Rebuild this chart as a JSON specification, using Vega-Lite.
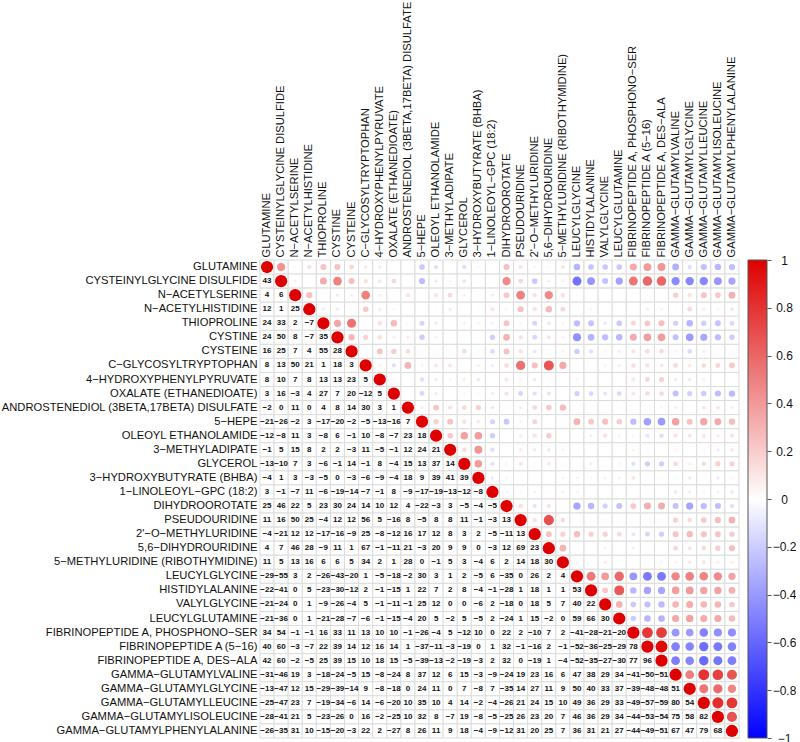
{"$schema":"https://vega.github.io/schema/vega-lite/v6.json","background":"white","padding":{"left":0,"top":0,"right":0,"bottom":0},
"params":[{"name":"names","value":["GLUTAMINE","CYSTEINYLGLYCINE DISULFIDE","N−ACETYLSERINE","N−ACETYLHISTIDINE","THIOPROLINE","CYSTINE","CYSTEINE","C−GLYCOSYLTRYPTOPHAN","4−HYDROXYPHENYLPYRUVATE","OXALATE (ETHANEDIOATE)","ANDROSTENEDIOL (3BETA,17BETA) DISULFATE","5−HEPE","OLEOYL ETHANOLAMIDE","3−METHYLADIPATE","GLYCEROL","3−HYDROXYBUTYRATE (BHBA)","1−LINOLEOYL−GPC (18:2)","DIHYDROOROTATE","PSEUDOURIDINE","2'−O−METHYLURIDINE","5,6−DIHYDROURIDINE","5−METHYLURIDINE (RIBOTHYMIDINE)","LEUCYLGLYCINE","HISTIDYLALANINE","VALYLGLYCINE","LEUCYLGLUTAMINE","FIBRINOPEPTIDE A, PHOSPHONO−SER","FIBRINOPEPTIDE A (5−16)","FIBRINOPEPTIDE A, DES−ALA","GAMMA−GLUTAMYLVALINE","GAMMA−GLUTAMYLGLYCINE","GAMMA−GLUTAMYLLEUCINE","GAMMA−GLUTAMYLISOLEUCINE","GAMMA−GLUTAMYLPHENYLALANINE"]}],
"config":{"view":{"stroke":null},"scale":{"bandPaddingInner":0,"bandPaddingOuter":0},"font":"Liberation Sans"},
"spacing":7,
"hconcat":[{"width":479,"height":478,
"data":{"values":[
{"r":1,"c":1,"v":100},
{"r":2,"c":1,"v":43},{"r":2,"c":2,"v":100},
{"r":3,"c":1,"v":4},{"r":3,"c":2,"v":6},{"r":3,"c":3,"v":100},
{"r":4,"c":1,"v":12},{"r":4,"c":2,"v":1},{"r":4,"c":3,"v":25},{"r":4,"c":4,"v":100},
{"r":5,"c":1,"v":24},{"r":5,"c":2,"v":33},{"r":5,"c":3,"v":2},{"r":5,"c":4,"v":-7},{"r":5,"c":5,"v":100},
{"r":6,"c":1,"v":24},{"r":6,"c":2,"v":50},{"r":6,"c":3,"v":8},{"r":6,"c":4,"v":-7},{"r":6,"c":5,"v":35},{"r":6,"c":6,"v":100},
{"r":7,"c":1,"v":16},{"r":7,"c":2,"v":25},{"r":7,"c":3,"v":7},{"r":7,"c":4,"v":4},{"r":7,"c":5,"v":55},{"r":7,"c":6,"v":28},{"r":7,"c":7,"v":100},
{"r":8,"c":1,"v":8},{"r":8,"c":2,"v":13},{"r":8,"c":3,"v":50},{"r":8,"c":4,"v":21},{"r":8,"c":5,"v":1},{"r":8,"c":6,"v":18},{"r":8,"c":7,"v":3},{"r":8,"c":8,"v":100},
{"r":9,"c":1,"v":8},{"r":9,"c":2,"v":10},{"r":9,"c":3,"v":7},{"r":9,"c":4,"v":8},{"r":9,"c":5,"v":13},{"r":9,"c":6,"v":13},{"r":9,"c":7,"v":23},{"r":9,"c":8,"v":5},{"r":9,"c":9,"v":100},
{"r":10,"c":1,"v":3},{"r":10,"c":2,"v":16},{"r":10,"c":3,"v":-3},{"r":10,"c":4,"v":4},{"r":10,"c":5,"v":27},{"r":10,"c":6,"v":7},{"r":10,"c":7,"v":20},{"r":10,"c":8,"v":-12},{"r":10,"c":9,"v":5},{"r":10,"c":10,"v":100},
{"r":11,"c":1,"v":-2},{"r":11,"c":2,"v":0},{"r":11,"c":3,"v":11},{"r":11,"c":4,"v":0},{"r":11,"c":5,"v":4},{"r":11,"c":6,"v":8},{"r":11,"c":7,"v":14},{"r":11,"c":8,"v":30},{"r":11,"c":9,"v":3},{"r":11,"c":10,"v":1},{"r":11,"c":11,"v":100},
{"r":12,"c":1,"v":-21},{"r":12,"c":2,"v":-26},{"r":12,"c":3,"v":-2},{"r":12,"c":4,"v":3},{"r":12,"c":5,"v":-17},{"r":12,"c":6,"v":-20},{"r":12,"c":7,"v":-2},{"r":12,"c":8,"v":-5},{"r":12,"c":9,"v":-13},{"r":12,"c":10,"v":-16},{"r":12,"c":11,"v":7},{"r":12,"c":12,"v":100},
{"r":13,"c":1,"v":-12},{"r":13,"c":2,"v":-8},{"r":13,"c":3,"v":11},{"r":13,"c":4,"v":3},{"r":13,"c":5,"v":-8},{"r":13,"c":6,"v":6},{"r":13,"c":7,"v":-1},{"r":13,"c":8,"v":10},{"r":13,"c":9,"v":-8},{"r":13,"c":10,"v":-7},{"r":13,"c":11,"v":23},{"r":13,"c":12,"v":18},{"r":13,"c":13,"v":100},
{"r":14,"c":1,"v":-1},{"r":14,"c":2,"v":5},{"r":14,"c":3,"v":15},{"r":14,"c":4,"v":8},{"r":14,"c":5,"v":2},{"r":14,"c":6,"v":2},{"r":14,"c":7,"v":-3},{"r":14,"c":8,"v":11},{"r":14,"c":9,"v":-5},{"r":14,"c":10,"v":-1},{"r":14,"c":11,"v":12},{"r":14,"c":12,"v":24},{"r":14,"c":13,"v":21},{"r":14,"c":14,"v":100},
{"r":15,"c":1,"v":-13},{"r":15,"c":2,"v":-10},{"r":15,"c":3,"v":7},{"r":15,"c":4,"v":3},{"r":15,"c":5,"v":-6},{"r":15,"c":6,"v":-1},{"r":15,"c":7,"v":14},{"r":15,"c":8,"v":-1},{"r":15,"c":9,"v":8},{"r":15,"c":10,"v":-4},{"r":15,"c":11,"v":15},{"r":15,"c":12,"v":13},{"r":15,"c":13,"v":37},{"r":15,"c":14,"v":14},{"r":15,"c":15,"v":100},
{"r":16,"c":1,"v":-4},{"r":16,"c":2,"v":1},{"r":16,"c":3,"v":3},{"r":16,"c":4,"v":-3},{"r":16,"c":5,"v":-5},{"r":16,"c":6,"v":0},{"r":16,"c":7,"v":-3},{"r":16,"c":8,"v":-6},{"r":16,"c":9,"v":-9},{"r":16,"c":10,"v":-4},{"r":16,"c":11,"v":18},{"r":16,"c":12,"v":9},{"r":16,"c":13,"v":39},{"r":16,"c":14,"v":41},{"r":16,"c":15,"v":39},{"r":16,"c":16,"v":100},
{"r":17,"c":1,"v":3},{"r":17,"c":2,"v":-1},{"r":17,"c":3,"v":-7},{"r":17,"c":4,"v":11},{"r":17,"c":5,"v":-6},{"r":17,"c":6,"v":-19},{"r":17,"c":7,"v":-14},{"r":17,"c":8,"v":-7},{"r":17,"c":9,"v":-1},{"r":17,"c":10,"v":8},{"r":17,"c":11,"v":-9},{"r":17,"c":12,"v":-17},{"r":17,"c":13,"v":-19},{"r":17,"c":14,"v":-13},{"r":17,"c":15,"v":-12},{"r":17,"c":16,"v":-8},{"r":17,"c":17,"v":100},
{"r":18,"c":1,"v":25},{"r":18,"c":2,"v":46},{"r":18,"c":3,"v":22},{"r":18,"c":4,"v":5},{"r":18,"c":5,"v":23},{"r":18,"c":6,"v":30},{"r":18,"c":7,"v":24},{"r":18,"c":8,"v":14},{"r":18,"c":9,"v":10},{"r":18,"c":10,"v":12},{"r":18,"c":11,"v":4},{"r":18,"c":12,"v":-22},{"r":18,"c":13,"v":-3},{"r":18,"c":14,"v":3},{"r":18,"c":15,"v":-5},{"r":18,"c":16,"v":-4},{"r":18,"c":17,"v":-5},{"r":18,"c":18,"v":100},
{"r":19,"c":1,"v":11},{"r":19,"c":2,"v":16},{"r":19,"c":3,"v":50},{"r":19,"c":4,"v":25},{"r":19,"c":5,"v":-4},{"r":19,"c":6,"v":12},{"r":19,"c":7,"v":12},{"r":19,"c":8,"v":56},{"r":19,"c":9,"v":5},{"r":19,"c":10,"v":-16},{"r":19,"c":11,"v":8},{"r":19,"c":12,"v":-5},{"r":19,"c":13,"v":8},{"r":19,"c":14,"v":8},{"r":19,"c":15,"v":11},{"r":19,"c":16,"v":-1},{"r":19,"c":17,"v":-3},{"r":19,"c":18,"v":13},{"r":19,"c":19,"v":100},
{"r":20,"c":1,"v":-4},{"r":20,"c":2,"v":-21},{"r":20,"c":3,"v":12},{"r":20,"c":4,"v":12},{"r":20,"c":5,"v":-17},{"r":20,"c":6,"v":-16},{"r":20,"c":7,"v":-9},{"r":20,"c":8,"v":25},{"r":20,"c":9,"v":-8},{"r":20,"c":10,"v":-12},{"r":20,"c":11,"v":16},{"r":20,"c":12,"v":17},{"r":20,"c":13,"v":12},{"r":20,"c":14,"v":8},{"r":20,"c":15,"v":3},{"r":20,"c":16,"v":2},{"r":20,"c":17,"v":-5},{"r":20,"c":18,"v":-11},{"r":20,"c":19,"v":13},{"r":20,"c":20,"v":100},
{"r":21,"c":1,"v":4},{"r":21,"c":2,"v":7},{"r":21,"c":3,"v":46},{"r":21,"c":4,"v":28},{"r":21,"c":5,"v":-9},{"r":21,"c":6,"v":11},{"r":21,"c":7,"v":1},{"r":21,"c":8,"v":67},{"r":21,"c":9,"v":-1},{"r":21,"c":10,"v":-11},{"r":21,"c":11,"v":21},{"r":21,"c":12,"v":-3},{"r":21,"c":13,"v":20},{"r":21,"c":14,"v":9},{"r":21,"c":15,"v":9},{"r":21,"c":16,"v":0},{"r":21,"c":17,"v":-3},{"r":21,"c":18,"v":12},{"r":21,"c":19,"v":69},{"r":21,"c":20,"v":23},{"r":21,"c":21,"v":100},
{"r":22,"c":1,"v":11},{"r":22,"c":2,"v":5},{"r":22,"c":3,"v":13},{"r":22,"c":4,"v":16},{"r":22,"c":5,"v":6},{"r":22,"c":6,"v":6},{"r":22,"c":7,"v":5},{"r":22,"c":8,"v":34},{"r":22,"c":9,"v":2},{"r":22,"c":10,"v":1},{"r":22,"c":11,"v":28},{"r":22,"c":12,"v":0},{"r":22,"c":13,"v":-1},{"r":22,"c":14,"v":5},{"r":22,"c":15,"v":3},{"r":22,"c":16,"v":-4},{"r":22,"c":17,"v":6},{"r":22,"c":18,"v":2},{"r":22,"c":19,"v":14},{"r":22,"c":20,"v":18},{"r":22,"c":21,"v":30},{"r":22,"c":22,"v":100},
{"r":23,"c":1,"v":-29},{"r":23,"c":2,"v":-55},{"r":23,"c":3,"v":3},{"r":23,"c":4,"v":2},{"r":23,"c":5,"v":-26},{"r":23,"c":6,"v":-43},{"r":23,"c":7,"v":-20},{"r":23,"c":8,"v":1},{"r":23,"c":9,"v":-5},{"r":23,"c":10,"v":-18},{"r":23,"c":11,"v":-2},{"r":23,"c":12,"v":30},{"r":23,"c":13,"v":3},{"r":23,"c":14,"v":1},{"r":23,"c":15,"v":2},{"r":23,"c":16,"v":-5},{"r":23,"c":17,"v":6},{"r":23,"c":18,"v":-35},{"r":23,"c":19,"v":0},{"r":23,"c":20,"v":26},{"r":23,"c":21,"v":2},{"r":23,"c":22,"v":4},{"r":23,"c":23,"v":100},
{"r":24,"c":1,"v":-22},{"r":24,"c":2,"v":-41},{"r":24,"c":3,"v":0},{"r":24,"c":4,"v":5},{"r":24,"c":5,"v":-23},{"r":24,"c":6,"v":-30},{"r":24,"c":7,"v":-12},{"r":24,"c":8,"v":2},{"r":24,"c":9,"v":-1},{"r":24,"c":10,"v":-15},{"r":24,"c":11,"v":1},{"r":24,"c":12,"v":22},{"r":24,"c":13,"v":7},{"r":24,"c":14,"v":2},{"r":24,"c":15,"v":8},{"r":24,"c":16,"v":-4},{"r":24,"c":17,"v":-1},{"r":24,"c":18,"v":-28},{"r":24,"c":19,"v":1},{"r":24,"c":20,"v":18},{"r":24,"c":21,"v":1},{"r":24,"c":22,"v":1},{"r":24,"c":23,"v":53},{"r":24,"c":24,"v":100},
{"r":25,"c":1,"v":-21},{"r":25,"c":2,"v":-24},{"r":25,"c":3,"v":0},{"r":25,"c":4,"v":1},{"r":25,"c":5,"v":-9},{"r":25,"c":6,"v":-26},{"r":25,"c":7,"v":-4},{"r":25,"c":8,"v":5},{"r":25,"c":9,"v":-1},{"r":25,"c":10,"v":-11},{"r":25,"c":11,"v":-1},{"r":25,"c":12,"v":25},{"r":25,"c":13,"v":12},{"r":25,"c":14,"v":0},{"r":25,"c":15,"v":0},{"r":25,"c":16,"v":-6},{"r":25,"c":17,"v":2},{"r":25,"c":18,"v":-18},{"r":25,"c":19,"v":0},{"r":25,"c":20,"v":18},{"r":25,"c":21,"v":5},{"r":25,"c":22,"v":7},{"r":25,"c":23,"v":40},{"r":25,"c":24,"v":22},{"r":25,"c":25,"v":100},
{"r":26,"c":1,"v":-21},{"r":26,"c":2,"v":-36},{"r":26,"c":3,"v":0},{"r":26,"c":4,"v":1},{"r":26,"c":5,"v":-21},{"r":26,"c":6,"v":-28},{"r":26,"c":7,"v":-7},{"r":26,"c":8,"v":-6},{"r":26,"c":9,"v":-1},{"r":26,"c":10,"v":-15},{"r":26,"c":11,"v":-4},{"r":26,"c":12,"v":20},{"r":26,"c":13,"v":5},{"r":26,"c":14,"v":-2},{"r":26,"c":15,"v":5},{"r":26,"c":16,"v":-5},{"r":26,"c":17,"v":2},{"r":26,"c":18,"v":-24},{"r":26,"c":19,"v":1},{"r":26,"c":20,"v":15},{"r":26,"c":21,"v":-2},{"r":26,"c":22,"v":0},{"r":26,"c":23,"v":59},{"r":26,"c":24,"v":66},{"r":26,"c":25,"v":30},{"r":26,"c":26,"v":100},
{"r":27,"c":1,"v":34},{"r":27,"c":2,"v":54},{"r":27,"c":3,"v":-1},{"r":27,"c":4,"v":-1},{"r":27,"c":5,"v":16},{"r":27,"c":6,"v":33},{"r":27,"c":7,"v":11},{"r":27,"c":8,"v":13},{"r":27,"c":9,"v":10},{"r":27,"c":10,"v":10},{"r":27,"c":11,"v":-1},{"r":27,"c":12,"v":-26},{"r":27,"c":13,"v":-4},{"r":27,"c":14,"v":5},{"r":27,"c":15,"v":-12},{"r":27,"c":16,"v":10},{"r":27,"c":17,"v":0},{"r":27,"c":18,"v":22},{"r":27,"c":19,"v":2},{"r":27,"c":20,"v":-10},{"r":27,"c":21,"v":7},{"r":27,"c":22,"v":2},{"r":27,"c":23,"v":-41},{"r":27,"c":24,"v":-28},{"r":27,"c":25,"v":-21},{"r":27,"c":26,"v":-20},{"r":27,"c":27,"v":100},
{"r":28,"c":1,"v":40},{"r":28,"c":2,"v":60},{"r":28,"c":3,"v":-3},{"r":28,"c":4,"v":-7},{"r":28,"c":5,"v":22},{"r":28,"c":6,"v":39},{"r":28,"c":7,"v":14},{"r":28,"c":8,"v":12},{"r":28,"c":9,"v":16},{"r":28,"c":10,"v":14},{"r":28,"c":11,"v":1},{"r":28,"c":12,"v":-37},{"r":28,"c":13,"v":-11},{"r":28,"c":14,"v":-3},{"r":28,"c":15,"v":-19},{"r":28,"c":16,"v":0},{"r":28,"c":17,"v":1},{"r":28,"c":18,"v":32},{"r":28,"c":19,"v":-1},{"r":28,"c":20,"v":-16},{"r":28,"c":21,"v":2},{"r":28,"c":22,"v":-1},{"r":28,"c":23,"v":-52},{"r":28,"c":24,"v":-36},{"r":28,"c":25,"v":-25},{"r":28,"c":26,"v":-29},{"r":28,"c":27,"v":78},{"r":28,"c":28,"v":100},
{"r":29,"c":1,"v":42},{"r":29,"c":2,"v":60},{"r":29,"c":3,"v":-2},{"r":29,"c":4,"v":-5},{"r":29,"c":5,"v":25},{"r":29,"c":6,"v":39},{"r":29,"c":7,"v":15},{"r":29,"c":8,"v":10},{"r":29,"c":9,"v":18},{"r":29,"c":10,"v":15},{"r":29,"c":11,"v":-5},{"r":29,"c":12,"v":-39},{"r":29,"c":13,"v":-13},{"r":29,"c":14,"v":-2},{"r":29,"c":15,"v":-19},{"r":29,"c":16,"v":-3},{"r":29,"c":17,"v":2},{"r":29,"c":18,"v":32},{"r":29,"c":19,"v":0},{"r":29,"c":20,"v":-19},{"r":29,"c":21,"v":1},{"r":29,"c":22,"v":-4},{"r":29,"c":23,"v":-52},{"r":29,"c":24,"v":-35},{"r":29,"c":25,"v":-27},{"r":29,"c":26,"v":-30},{"r":29,"c":27,"v":77},{"r":29,"c":28,"v":96},{"r":29,"c":29,"v":100},
{"r":30,"c":1,"v":-31},{"r":30,"c":2,"v":-46},{"r":30,"c":3,"v":19},{"r":30,"c":4,"v":3},{"r":30,"c":5,"v":-18},{"r":30,"c":6,"v":-24},{"r":30,"c":7,"v":-5},{"r":30,"c":8,"v":15},{"r":30,"c":9,"v":-8},{"r":30,"c":10,"v":-24},{"r":30,"c":11,"v":8},{"r":30,"c":12,"v":37},{"r":30,"c":13,"v":12},{"r":30,"c":14,"v":6},{"r":30,"c":15,"v":15},{"r":30,"c":16,"v":-3},{"r":30,"c":17,"v":-9},{"r":30,"c":18,"v":-24},{"r":30,"c":19,"v":19},{"r":30,"c":20,"v":23},{"r":30,"c":21,"v":16},{"r":30,"c":22,"v":6},{"r":30,"c":23,"v":47},{"r":30,"c":24,"v":38},{"r":30,"c":25,"v":29},{"r":30,"c":26,"v":34},{"r":30,"c":27,"v":-41},{"r":30,"c":28,"v":-50},{"r":30,"c":29,"v":-51},{"r":30,"c":30,"v":100},
{"r":31,"c":1,"v":-13},{"r":31,"c":2,"v":-47},{"r":31,"c":3,"v":12},{"r":31,"c":4,"v":15},{"r":31,"c":5,"v":-29},{"r":31,"c":6,"v":-39},{"r":31,"c":7,"v":-14},{"r":31,"c":8,"v":9},{"r":31,"c":9,"v":-8},{"r":31,"c":10,"v":-18},{"r":31,"c":11,"v":0},{"r":31,"c":12,"v":24},{"r":31,"c":13,"v":11},{"r":31,"c":14,"v":0},{"r":31,"c":15,"v":7},{"r":31,"c":16,"v":-8},{"r":31,"c":17,"v":7},{"r":31,"c":18,"v":-35},{"r":31,"c":19,"v":14},{"r":31,"c":20,"v":27},{"r":31,"c":21,"v":11},{"r":31,"c":22,"v":9},{"r":31,"c":23,"v":50},{"r":31,"c":24,"v":40},{"r":31,"c":25,"v":33},{"r":31,"c":26,"v":37},{"r":31,"c":27,"v":-39},{"r":31,"c":28,"v":-48},{"r":31,"c":29,"v":-48},{"r":31,"c":30,"v":51},{"r":31,"c":31,"v":100},
{"r":32,"c":1,"v":-25},{"r":32,"c":2,"v":-47},{"r":32,"c":3,"v":23},{"r":32,"c":4,"v":7},{"r":32,"c":5,"v":-19},{"r":32,"c":6,"v":-34},{"r":32,"c":7,"v":-6},{"r":32,"c":8,"v":14},{"r":32,"c":9,"v":-6},{"r":32,"c":10,"v":-20},{"r":32,"c":11,"v":10},{"r":32,"c":12,"v":35},{"r":32,"c":13,"v":10},{"r":32,"c":14,"v":4},{"r":32,"c":15,"v":14},{"r":32,"c":16,"v":-2},{"r":32,"c":17,"v":-4},{"r":32,"c":18,"v":-26},{"r":32,"c":19,"v":21},{"r":32,"c":20,"v":24},{"r":32,"c":21,"v":15},{"r":32,"c":22,"v":10},{"r":32,"c":23,"v":49},{"r":32,"c":24,"v":36},{"r":32,"c":25,"v":29},{"r":32,"c":26,"v":33},{"r":32,"c":27,"v":-49},{"r":32,"c":28,"v":-57},{"r":32,"c":29,"v":-59},{"r":32,"c":30,"v":80},{"r":32,"c":31,"v":54},{"r":32,"c":32,"v":100},
{"r":33,"c":1,"v":-28},{"r":33,"c":2,"v":-41},{"r":33,"c":3,"v":21},{"r":33,"c":4,"v":5},{"r":33,"c":5,"v":-23},{"r":33,"c":6,"v":-26},{"r":33,"c":7,"v":0},{"r":33,"c":8,"v":16},{"r":33,"c":9,"v":-2},{"r":33,"c":10,"v":-25},{"r":33,"c":11,"v":10},{"r":33,"c":12,"v":32},{"r":33,"c":13,"v":8},{"r":33,"c":14,"v":-7},{"r":33,"c":15,"v":19},{"r":33,"c":16,"v":-8},{"r":33,"c":17,"v":-5},{"r":33,"c":18,"v":-25},{"r":33,"c":19,"v":26},{"r":33,"c":20,"v":23},{"r":33,"c":21,"v":20},{"r":33,"c":22,"v":7},{"r":33,"c":23,"v":46},{"r":33,"c":24,"v":36},{"r":33,"c":25,"v":29},{"r":33,"c":26,"v":34},{"r":33,"c":27,"v":-44},{"r":33,"c":28,"v":-53},{"r":33,"c":29,"v":-54},{"r":33,"c":30,"v":75},{"r":33,"c":31,"v":58},{"r":33,"c":32,"v":82},{"r":33,"c":33,"v":100},
{"r":34,"c":1,"v":-26},{"r":34,"c":2,"v":-35},{"r":34,"c":3,"v":31},{"r":34,"c":4,"v":10},{"r":34,"c":5,"v":-15},{"r":34,"c":6,"v":-20},{"r":34,"c":7,"v":-3},{"r":34,"c":8,"v":22},{"r":34,"c":9,"v":2},{"r":34,"c":10,"v":-27},{"r":34,"c":11,"v":8},{"r":34,"c":12,"v":26},{"r":34,"c":13,"v":11},{"r":34,"c":14,"v":9},{"r":34,"c":15,"v":18},{"r":34,"c":16,"v":-4},{"r":34,"c":17,"v":-9},{"r":34,"c":18,"v":-12},{"r":34,"c":19,"v":31},{"r":34,"c":20,"v":20},{"r":34,"c":21,"v":25},{"r":34,"c":22,"v":7},{"r":34,"c":23,"v":36},{"r":34,"c":24,"v":31},{"r":34,"c":25,"v":21},{"r":34,"c":26,"v":27},{"r":34,"c":27,"v":-44},{"r":34,"c":28,"v":-49},{"r":34,"c":29,"v":-51},{"r":34,"c":30,"v":67},{"r":34,"c":31,"v":47},{"r":34,"c":32,"v":79},{"r":34,"c":33,"v":68},{"r":34,"c":34,"v":100}
]},
"layer":[
{"mark":{"type":"rect","fill":"white","stroke":"#dcdcdc","strokeWidth":1},
"encoding":{"x":{"field":"c","type":"ordinal","scale":{"type":"band","domain":[1,2,3,4,5,6,7,8,9,10,11,12,13,14,15,16,17,18,19,20,21,22,23,24,25,26,27,28,29,30,31,32,33,34]},"axis":{"orient":"top","title":null,"domain":false,"ticks":false,"labelAngle":-90,"labelAlign":"left","labelBaseline":"middle","labelPadding":3,"labelFontSize":11.2,"labelColor":"#111","labelLimit":300,"labelFont":"Liberation Sans","labelOverlap":false,"labelExpr":"names[datum.value-1]"}},
"y":{"field":"r","type":"ordinal","scale":{"type":"band","domain":[1,2,3,4,5,6,7,8,9,10,11,12,13,14,15,16,17,18,19,20,21,22,23,24,25,26,27,28,29,30,31,32,33,34]},"axis":{"title":null,"domain":false,"ticks":false,"labelAlign":"right","labelPadding":3,"labelFontSize":11.2,"labelColor":"#111","labelLimit":300,"labelFont":"Liberation Sans","labelOverlap":false,"labelExpr":"names[datum.value-1]"}}}},
{"mark":{"type":"rect","fill":"white","stroke":"#dcdcdc","strokeWidth":1},
"encoding":{"x":{"field":"r","type":"ordinal","scale":{"type":"band","domain":[1,2,3,4,5,6,7,8,9,10,11,12,13,14,15,16,17,18,19,20,21,22,23,24,25,26,27,28,29,30,31,32,33,34]}},
"y":{"field":"c","type":"ordinal","scale":{"type":"band","domain":[1,2,3,4,5,6,7,8,9,10,11,12,13,14,15,16,17,18,19,20,21,22,23,24,25,26,27,28,29,30,31,32,33,34]}}}},
{"transform":[{"filter":"datum.r!=datum.c"}],"mark":{"type":"text","fontSize":8,"fontWeight":"bold","color":"#111","font":"Liberation Sans"},
"encoding":{"x":{"field":"c","type":"ordinal","scale":{"type":"band","domain":[1,2,3,4,5,6,7,8,9,10,11,12,13,14,15,16,17,18,19,20,21,22,23,24,25,26,27,28,29,30,31,32,33,34]}},
"y":{"field":"r","type":"ordinal","scale":{"type":"band","domain":[1,2,3,4,5,6,7,8,9,10,11,12,13,14,15,16,17,18,19,20,21,22,23,24,25,26,27,28,29,30,31,32,33,34]}},
"text":{"field":"v","type":"quantitative","format":"d"}}},
{"mark":{"type":"circle","opacity":1},
"encoding":{"x":{"field":"r","type":"ordinal","scale":{"type":"band","domain":[1,2,3,4,5,6,7,8,9,10,11,12,13,14,15,16,17,18,19,20,21,22,23,24,25,26,27,28,29,30,31,32,33,34]}},
"y":{"field":"c","type":"ordinal","scale":{"type":"band","domain":[1,2,3,4,5,6,7,8,9,10,11,12,13,14,15,16,17,18,19,20,21,22,23,24,25,26,27,28,29,30,31,32,33,34]}},
"size":{"field":"v","type":"quantitative","legend":null,"scale":{"domain":[-100,0,100],"range":[150,0,150]}},
"color":{"field":"v","type":"quantitative","legend":null,"scale":{"domain":[-100,0,100],"range":["#0000FF","#FFFFFF","#DE0000"],"interpolate":"rgb"}}}}
]},
{"width":19,"height":478,"data":{"values":[{"lo":-1,"hi":1}]},
"mark":{"type":"rect","stroke":"#555","strokeWidth":1,"color":{"gradient":"linear","x1":0,"y1":1,"x2":0,"y2":0,"stops":[{"offset":0,"color":"#0000FF"},{"offset":0.5,"color":"#FFFFFF"},{"offset":1,"color":"#DE0000"}]}},
"encoding":{"y":{"field":"lo","type":"quantitative","scale":{"domain":[-1,1],"nice":false,"zero":false},"axis":{"orient":"right","title":null,"grid":false,"domain":false,"values":[-1,-0.8,-0.6,-0.4,-0.2,0,0.2,0.4,0.6,0.8,1],"format":"~g","tickSize":4,"tickColor":"#555","labelAlign":"center","labelPadding":13,"labelFontSize":12,"labelColor":"#111","labelFont":"Liberation Sans"}},"y2":{"field":"hi"}}}
]}
